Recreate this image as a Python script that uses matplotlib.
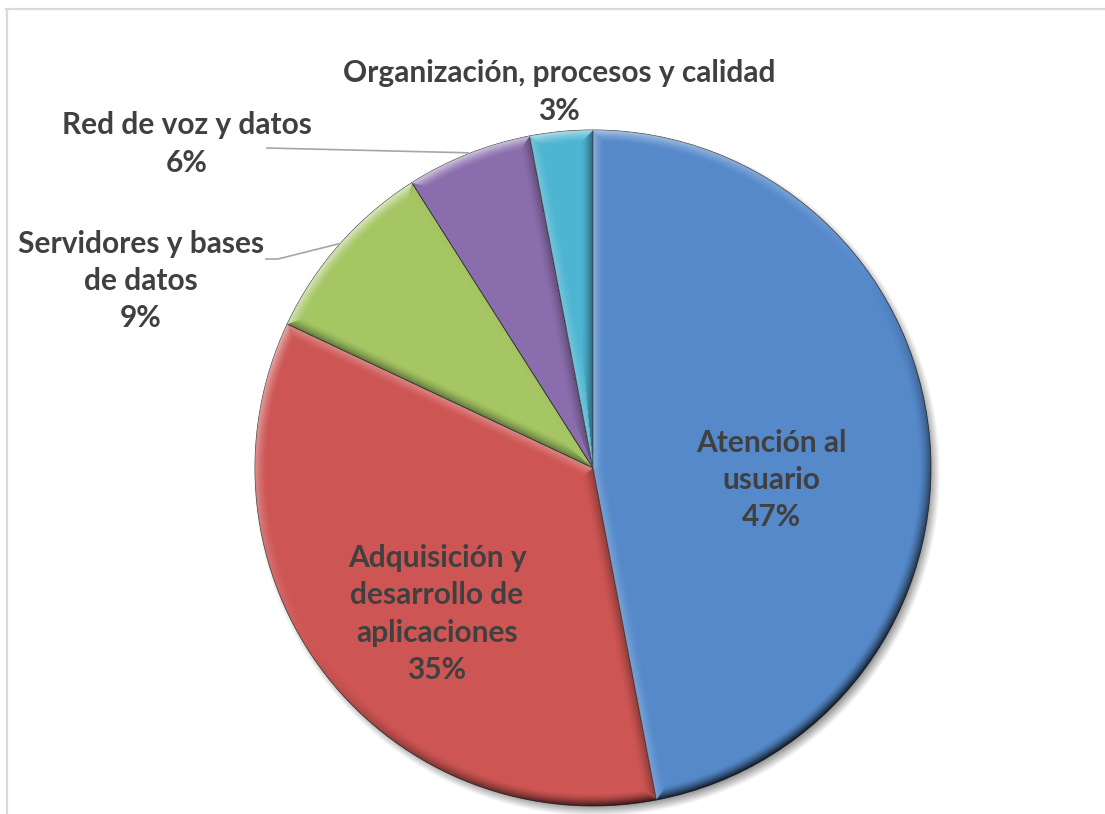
import numpy as np
import matplotlib.pyplot as plt
from matplotlib.lines import Line2D

plt.rcParams['font.family'] = ['Lato', 'DejaVu Sans']

categories = ["Atención al\nusuario", "Adquisición y\ndesarrollo de\naplicaciones",
              "Servidores y bases\nde datos", "Red de voz y datos",
              "Organización, procesos y calidad"]
shares = [47, 35, 9, 6, 3]
colors = ["#5589CA", "#CD5553", "#A5C663", "#8A6DAD", "#4DB5D2"]

W, H = 1105, 814
cx, cy, R = 593, 346, 338
txt_col = "#404040"

fig = plt.figure(figsize=(W / 100, H / 100), dpi=100)
ax = fig.add_axes([0, 0, 1, 1])
ax.set_xlim(0, W)
ax.set_ylim(0, H)
ax.set_aspect("equal")
ax.axis("off")

# chart frame
ax.add_line(Line2D([6.5, 6.5], [0, 805], color="#D9D9D9", lw=1.6))
ax.add_line(Line2D([6, W], [805, 805], color="#D9D9D9", lw=1.6))

# soft drop shadow under the pie
ext = [cx - R - 30, cx + R + 30, cy - R - 30, cy + R + 30]
gx = np.linspace(ext[0], ext[1], 500)
gy = np.linspace(ext[2], ext[3], 500)
X, Y = np.meshgrid(gx, gy)
dist = np.hypot(X - (cx + 4), Y - (cy - 5))
a = np.clip((R + 6 - dist) / 12, 0, 1) * 0.45
shadow = np.zeros(X.shape + (4,))
shadow[..., 3] = a
ax.imshow(shadow, extent=ext, origin="lower", zorder=1, interpolation="bilinear")

wedges, _ = ax.pie(shares, colors=colors, startangle=90, counterclock=False,
                   center=(cx, cy), radius=R, frame=True,
                   wedgeprops=dict(linewidth=0.6, edgecolor="#3a3a3a"))
for w in wedges:
    w.set_zorder(2)
ax.set_xlim(0, W)
ax.set_ylim(0, H)
ax.axis("off")

# bevel shading on each slice, light from the upper left
light = np.array([-0.55, 0.83])
bw = 12.0
gx = np.linspace(cx - R, cx + R, 800)
gy = np.linspace(cy - R, cy + R, 800)
X, Y = np.meshgrid(gx, gy)
dx, dy = X - cx, Y - cy
rr = np.hypot(dx, dy)
phi = np.degrees(np.arctan2(dy, dx))
for w in wedges:
    t1, t2 = sorted([w.theta1, w.theta2])
    ph = (phi - t1) % 360 + t1
    a1, a2 = np.radians(t1), np.radians(t2)
    prad = np.radians(ph)
    d_arc = R - rr
    d_1 = rr * np.sin(np.clip(prad - a1, 0, np.pi / 2))
    d_2 = rr * np.sin(np.clip(a2 - prad, 0, np.pi / 2))
    ds = np.stack([d_arc, d_1, d_2])
    nx = np.stack([np.cos(prad), np.full_like(rr, np.sin(a1)), np.full_like(rr, -np.sin(a2))])
    ny = np.stack([np.sin(prad), np.full_like(rr, -np.cos(a1)), np.full_like(rr, np.cos(a2))])
    k = np.argmin(ds, axis=0)
    d = np.take_along_axis(ds, k[None], 0)[0]
    n_x = np.take_along_axis(nx, k[None], 0)[0]
    n_y = np.take_along_axis(ny, k[None], 0)[0]
    s = np.clip(1 - d / bw, 0, 1) ** 1.5
    shade = (n_x * light[0] + n_y * light[1]) * s
    img = np.zeros(X.shape + (4,))
    pos = shade > 0
    img[pos, :3] = 1.0
    img[..., 3] = np.abs(shade) * 0.6
    img[~pos, 3] = np.abs(shade[~pos]) * 0.8
    im = ax.imshow(img, extent=[cx - R, cx + R, cy - R, cy + R], origin="lower",
                   zorder=3, interpolation="bilinear")
    im.set_clip_path(w)

def mid_point(w, rad):
    m = np.radians((w.theta1 + w.theta2) / 2)
    return cx + rad * np.cos(m), cy + rad * np.sin(m)

fs = 21.5
ls = 1.4
lab = [f"{c}\n{v}%" for c, v in zip(categories, shares)]

# inside labels
ax.text(771, H - 480, lab[0], ha="center", va="center", fontsize=fs, fontweight="bold",
        color=txt_col, linespacing=ls, zorder=5)
ax.text(437, H - 614, lab[1], ha="center", va="center", fontsize=fs, fontweight="bold",
        color=txt_col, linespacing=ls, zorder=5)

# outside labels with leader lines
ax.text(141, H - 281, lab[2], ha="center", va="center", fontsize=fs, fontweight="bold",
        color=txt_col, linespacing=ls, zorder=5)
ex, ey = mid_point(wedges[2], R + 1)
ax.plot([266, 278, ex], [H - 259, H - 259, ey], color="#A6A6A6", lw=1.2, zorder=4)

ax.text(187, H - 144, lab[3], ha="center", va="center", fontsize=fs, fontweight="bold",
        color=txt_col, linespacing=ls, zorder=5)
ex, ey = mid_point(wedges[3], R + 1)
ax.plot([267, ex], [H - 148, ey], color="#A6A6A6", lw=1.2, zorder=4)

ax.text(559, H - 92, lab[4], ha="center", va="center", fontsize=fs, fontweight="bold",
        color=txt_col, linespacing=ls, zorder=5)

fig.savefig("out.png", dpi=100, facecolor="white")
